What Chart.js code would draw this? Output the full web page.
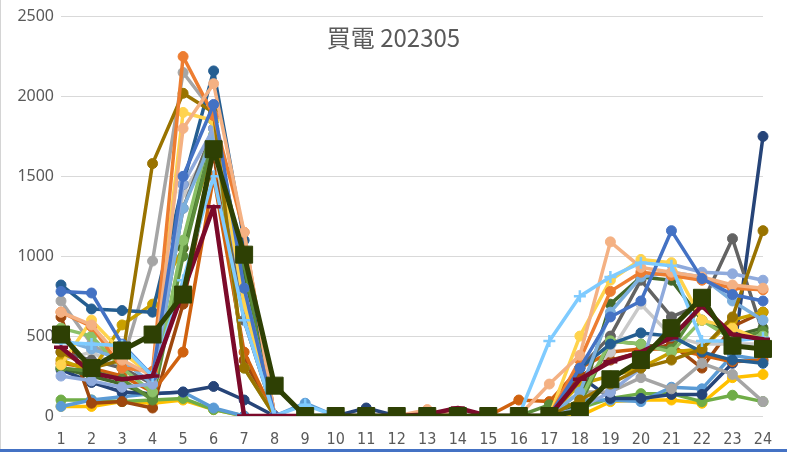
<!DOCTYPE html>
<html>
<head>
<meta charset="utf-8">
<script src="https://cdn.jsdelivr.net/npm/chart.js@4/dist/chart.umd.min.js"></script>
<style>
  html, body { margin: 0; padding: 0; background: #fff; }
  #wrap { position: relative; width: 787px; height: 452px; overflow: hidden; }
  #chart { position: absolute; left: 0; top: 0; }
  #title {
    position: absolute; left: 0; top: 22px; width: 787px; text-align: center;
    font: 24px "Noto Sans CJK TC", "Noto Sans", sans-serif; line-height: 30px;
    color: #595959; pointer-events: none;
  }
  #edgeLeft { position: absolute; left: 0; top: 0; width: 1px; height: 449px; background: #d4d4d4; }
  #edgeBottom { position: absolute; left: 0; top: 449px; width: 787px; height: 3px; background: #4472c4; }
</style>
</head>
<body>
<div id="wrap">
  <canvas id="chart" width="787" height="452"></canvas>
  <div id="title">買電 202305</div>
  <div id="edgeLeft"></div>
  <div id="edgeBottom"></div>
</div>
<script>
// ── DATA ─────────────────────────────────────────────────────
const hours = ["1","2","3","4","5","6","7","8","9","10","11","12",
               "13","14","15","16","17","18","19","20","21","22","23","24"];
const yTicks = [0, 500, 1000, 1500, 2000, 2500];

const seriesBlue      = [780,770,450,250,1500,1950,800,0,0,0,0,0,0,0,0,0,0,300,620,720,1160,860,760,720];
const seriesOrange    = [650,560,300,280,2250,1880,1150,0,0,0,0,0,0,0,0,0,0,350,780,900,880,850,800,790];
const seriesGray      = [720,450,330,970,2150,1900,600,0,0,0,0,0,0,0,0,0,0,150,150,240,170,330,260,90];
const seriesGold      = [60,60,90,80,100,40,0,0,0,0,0,0,0,0,0,0,0,0,90,100,100,80,240,260];
const seriesLtBlue    = [60,100,120,140,150,50,0,0,80,0,0,0,0,0,0,0,0,100,100,90,180,170,380,350];
const seriesGreen     = [100,100,90,100,110,40,0,0,0,0,0,0,0,0,0,0,0,50,110,140,140,90,130,90];
const seriesNavy      = [290,210,150,140,150,185,100,0,0,0,50,0,0,0,0,0,0,250,110,110,135,135,330,1750];
const seriesBrown     = [620,80,90,50,700,1650,350,0,0,0,0,0,0,0,0,0,0,250,350,400,450,300,560,650];
const seriesDkGray    = [400,350,300,200,1300,1800,600,0,0,0,0,0,0,0,0,0,0,300,500,850,620,700,1110,520];
const seriesDkGold    = [400,300,350,1580,2020,1900,300,0,0,0,0,0,0,0,0,0,0,100,200,300,350,420,620,1160];
const seriesSteel     = [820,670,660,650,1450,2160,1100,0,0,0,0,0,0,0,0,0,0,300,450,520,500,400,350,330];
const seriesDkGreen   = [300,250,200,120,1050,1850,900,0,0,0,0,0,0,0,0,0,0,80,700,870,850,600,500,550];
const seriesPeriwink  = [250,220,180,200,1450,1800,700,0,0,0,0,0,0,0,0,0,0,50,150,300,950,900,890,850];
const seriesPeach     = [650,570,350,250,1800,2080,1150,0,0,0,0,0,40,0,0,0,200,380,1090,930,900,870,820,800];
const seriesLtGray    = [350,400,300,200,1400,1700,600,0,0,0,0,0,0,0,0,0,0,200,400,700,500,450,450,450];
const seriesYellow    = [320,600,400,250,1900,1850,700,0,0,0,0,0,0,0,0,0,0,500,850,980,960,600,550,470];
const seriesSky2      = [480,420,350,200,1300,1750,800,0,0,0,0,0,0,0,0,0,0,150,650,870,900,870,720,600];
const seriesLtGreen   = [550,500,300,150,1100,1850,300,0,0,0,0,0,0,0,0,0,0,100,470,450,400,600,480,500];
const seriesDkOrange  = [330,300,250,150,400,1500,400,0,0,0,0,0,0,0,0,100,90,300,400,420,420,380,340,350];
const seriesOchre     = [350,280,570,700,1050,1700,900,0,0,0,0,0,0,0,0,0,0,200,250,300,400,420,600,650];
const seriesMidGreen  = [300,280,230,100,1000,1750,950,0,0,0,0,0,0,0,0,0,70,70,470,450,420,700,480,530];
const seriesSky       = [460,450,440,250,850,1500,600,0,70,0,0,0,0,0,0,0,470,750,870,960,940,470,470,490];
const seriesMaroon    = [430,270,230,250,780,1310,0,0,0,0,0,0,10,50,0,0,0,230,340,400,490,690,510,480];
const seriesAverage   = [510,300,410,510,760,1670,1010,190,0,0,0,0,0,0,0,0,0,30,230,350,550,740,440,420];

// ── STYLE ────────────────────────────────────────────────────
const circle = (data, color) => ({
  data, borderColor: color, backgroundColor: color,
  borderWidth: 3.5, pointRadius: 5, pointBorderWidth: 1,
  borderJoinStyle: "round", borderCapStyle: "round",
  pointBackgroundColor: color, pointBorderColor: color, tension: 0,
});

// listed bottom-to-top; reversed below because Chart.js paints index 0 last
const layers = [
  circle(seriesGold, "#ffc000"),
  circle(seriesGreen, "#70ad47"),
  circle(seriesLtBlue, "#5b9bd5"),
  circle(seriesNavy, "#264478"),
  circle(seriesBrown, "#9e480e"),
  circle(seriesDkOrange, "#d0620f"),
  circle(seriesGray, "#a5a5a5"),
  circle(seriesLtGray, "#c9c9c9"),
  circle(seriesDkGray, "#636363"),
  circle(seriesOchre, "#c9a000"),
  circle(seriesDkGreen, "#43682b"),
  circle(seriesMidGreen, "#5b8c3a"),
  circle(seriesLtGreen, "#8cc168"),
  circle(seriesSteel, "#255e91"),
  circle(seriesSky2, "#7cafdd"),
  circle(seriesPeriwink, "#8faadc"),
  circle(seriesYellow, "#ffd34d"),
  circle(seriesDkGold, "#997300"),
  circle(seriesOrange, "#ed7d31"),
  circle(seriesPeach, "#f4b183"),
  circle(seriesBlue, "#4472c4"),
  Object.assign(circle(seriesSky, "#7fcbff"), { pointStyle: "cross", pointRadius: 6, pointBorderWidth: 2.5 }),
  Object.assign(circle(seriesMaroon, "#7b0a2a"), { borderWidth: 4.5, pointStyle: "line", pointRadius: 7, pointBorderWidth: 3.5 }),
  Object.assign(circle(seriesAverage, "#2e4004"), { borderWidth: 5, pointStyle: "rect", pointRadius: 12, pointBorderWidth: 1 }),
];
const datasets = layers.slice().reverse();

new Chart(document.getElementById("chart"), {
  type: "line",
  data: { labels: hours, datasets },
  options: {
    responsive: false,
    animation: false,
    layout: { padding: { left: 0, right: 24, top: 10, bottom: 0 } },
    plugins: { legend: { display: false }, tooltip: { enabled: false }, title: { display: false } },
    scales: {
      x: {
        offset: false,
        grid: { display: false, drawTicks: false },
        border: { display: false },
        ticks: {
          autoSkip: false, maxRotation: 0, padding: 14, color: "#595959",
          font: { family: "DejaVu Sans Condensed", size: 16 },
        },
        afterFit: s => { s.height = 36; },
      },
      y: {
        min: 0, max: 2500,
        afterBuildTicks: s => { s.ticks = yTicks.map(v => ({ value: v })); },
        grid: { color: "#d9d9d9", lineWidth: 1, drawTicks: false },
        border: { display: false },
        ticks: {
          padding: 7, color: "#595959",
          font: { family: "Noto Sans", size: 16 },
          callback: v => String(v),
        },
        afterFit: s => { s.width = 61; },
      },
    },
  },
});
</script>
</body>
</html>
